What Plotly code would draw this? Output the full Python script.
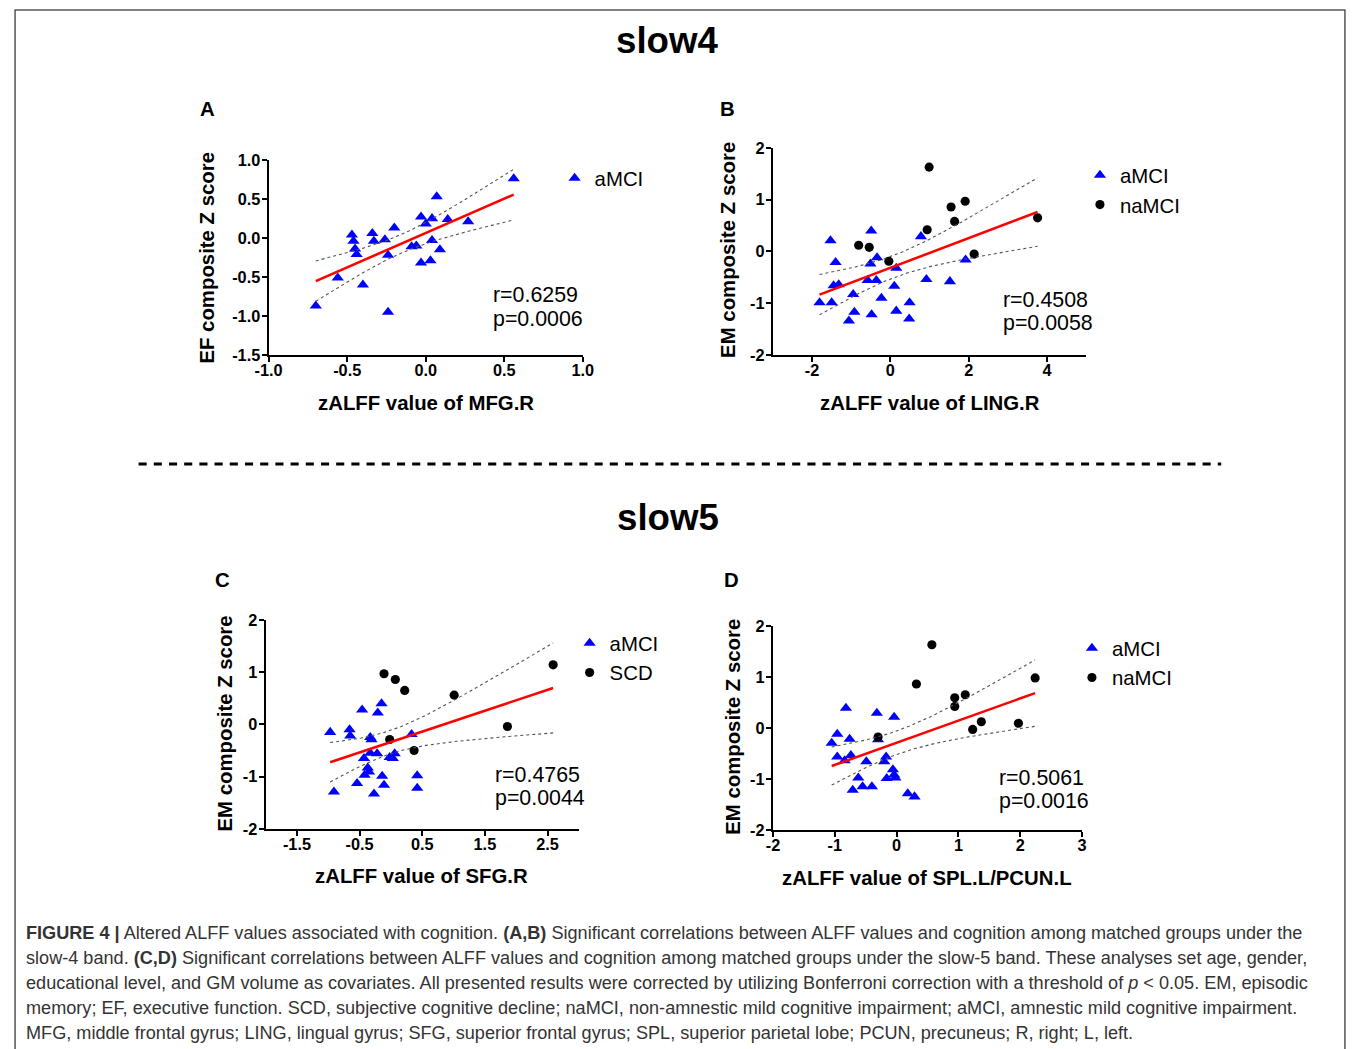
import numpy as np
import plotly.graph_objects as go

W, H = 1357, 1049
# The photographed page comes out slightly shrunk about its centre; positions below are
# given in reference-picture pixels and converted to page pixels with this calibration.
SX, OX = 0.981, 13.5
SY, OY = 0.983, 8.0
K = 1.0 / 0.982
FONT = "Liberation Sans, Arial, Helvetica, sans-serif"

# ---------------- data ----------------
# Panel A (slow4): EF composite Z score vs zALFF of MFG.R
a_amci_x = [-0.70, -0.56, -0.47, -0.46, -0.45, -0.44, -0.40, -0.34, -0.33, -0.26, -0.24, -0.24, -0.20,
            -0.09, -0.06, -0.03, 0.00, -0.03, 0.03, 0.04, 0.04, 0.07, 0.09, 0.14, 0.27, 0.56]
a_amci_y = [-0.87, -0.51, 0.04, -0.04, -0.14, -0.21, -0.60, 0.06, -0.04, -0.02, -0.22, -0.95, 0.13,
            -0.11, -0.10, 0.27, 0.18, -0.32, -0.29, 0.25, -0.03, 0.53, -0.15, 0.24, 0.21, 0.76]

# Panel B (slow4): EM composite Z score vs zALFF of LING.R
b_amci_x = [-1.81, -1.53, -1.50, -1.45, -1.40, -1.32, -1.06, -0.95, -0.92, -0.58, -0.51, -0.49, -0.48,
            -0.36, -0.34, -0.23, 0.10, 0.15, 0.15, 0.49, 0.48, 0.78, 0.92, 1.52, 1.92]
b_amci_y = [-0.99, 0.21, -0.99, -0.66, -0.21, -0.64, -1.34, -0.83, -1.17, -0.56, -0.24, 0.40, -1.22,
            -0.56, -0.12, -0.90, -0.67, -0.32, -1.15, -0.99, -1.30, 0.29, -0.54, -0.58, -0.16]
b_namci_x = [-0.81, -0.54, -0.04, 0.94, 0.99, 1.55, 1.64, 1.91, 2.14, 3.76]
b_namci_y = [0.12, 0.08, -0.19, 0.42, 1.63, 0.86, 0.58, 0.97, -0.05, 0.65]

# Panel C (slow5): EM composite Z score vs zALFF of SFG.R
c_amci_x = [-0.97, -0.91, -0.66, -0.65, -0.54, -0.46, -0.43, -0.42, -0.37, -0.35, -0.33, -0.31, -0.33,
            -0.27, -0.22, -0.21, -0.15, -0.14, -0.11, -0.02, 0.03, 0.06, 0.33, 0.42, 0.42]
c_amci_y = [-0.15, -1.29, -0.10, -0.22, -1.13, 0.28, -0.65, -0.97, -0.83, -0.91, -0.25, -0.29, -0.55,
            -1.33, -0.56, 0.22, 0.40, -0.99, -1.16, -0.63, -0.65, -0.56, -0.19, -0.98, -1.22]
c_scd_x = [-0.11, 0.07, 0.22, -0.02, 0.37, 1.01, 1.86, 2.59]
c_scd_y = [0.97, 0.86, 0.65, -0.29, -0.50, 0.56, -0.04, 1.14]

# Panel D (slow5): EM composite Z score vs zALFF of SPL.L/PCUN.L
d_amci_x = [-1.05, -0.96, -0.96, -0.84, -0.82, -0.76, -0.74, -0.71, -0.62, -0.55, -0.49, -0.40,
            -0.32, -0.30, -0.20, -0.17, -0.16, -0.06, -0.04, -0.04, -0.02, 0.18, 0.29]
d_amci_y = [-0.30, -0.12, -0.57, -0.64, 0.39, -0.22, -0.54, -1.22, -0.98, -1.15, -0.66, -1.15,
            0.29, -0.23, -0.66, -0.57, -0.99, -0.82, 0.21, -0.92, -0.98, -1.29, -1.35]
d_namci_x = [-0.30, 0.32, 0.57, 0.94, 0.94, 1.11, 1.23, 1.37, 1.97, 2.24]
d_namci_y = [-0.18, 0.86, 1.63, 0.42, 0.59, 0.65, -0.03, 0.12, 0.09, 0.98]

# tick labels
a_xticks = [-1.0, -0.5, 0.0, 0.5, 1.0]
a_xticktext = ["-1.0", "-0.5", "0.0", "0.5", "1.0"]
a_yticks = [-1.5, -1.0, -0.5, 0.0, 0.5, 1.0]
a_yticktext = ["-1.5", "-1.0", "-0.5", "0.0", "0.5", "1.0"]
b_xticks = [-2, 0, 2, 4]
c_xticks = [-1.5, -0.5, 0.5, 1.5, 2.5]
d_xticks = [-2, -1, 0, 1, 2, 3]
em_yticks = [-2, -1, 0, 1, 2]

stats_r = ["r=0.6259", "r=0.4508", "r=0.4765", "r=0.5061"]
stats_p = ["p=0.0006", "p=0.0058", "p=0.0044", "p=0.0016"]


# ---------------- helpers ----------------
def page_x(X):
    return (X - OX) / SX


def page_y(Y):
    return (Y - OY) / SY


def px(X):
    return page_x(X) / W


def py(Y):
    return 1 - page_y(Y) / H


def t975(df):
    z = 1.959964
    return (z + (z ** 3 + z) / (4 * df) + (5 * z ** 5 + 16 * z ** 3 + 3 * z) / (96 * df ** 2)
            + (3 * z ** 7 + 19 * z ** 5 + 17 * z ** 3 - 15 * z) / (384 * df ** 3))


def fit_band(xs, ys, npts=80):
    x = np.asarray(xs, float)
    y = np.asarray(ys, float)
    n = len(x)
    b, a = np.polyfit(x, y, 1)
    res = y - (a + b * x)
    s = np.sqrt(np.sum(res ** 2) / (n - 2))
    xbar = x.mean()
    sxx = np.sum((x - xbar) ** 2)
    xg = np.linspace(x.min(), x.max(), npts)
    yg = a + b * xg
    se = s * np.sqrt(1.0 / n + (xg - xbar) ** 2 / sxx)
    t = t975(n - 2)
    return xg, yg, yg - t * se, yg + t * se


fig = go.Figure()

panels = [
    ("", [("aMCI", a_amci_x, a_amci_y, "triangle-up", "#0000FF")], "legend"),
    ("2", [("aMCI", b_amci_x, b_amci_y, "triangle-up", "#0000FF"),
           ("naMCI", b_namci_x, b_namci_y, "circle", "#000000")], "legend2"),
    ("3", [("aMCI", c_amci_x, c_amci_y, "triangle-up", "#0000FF"),
           ("SCD", c_scd_x, c_scd_y, "circle", "#000000")], "legend3"),
    ("4", [("aMCI", d_amci_x, d_amci_y, "triangle-up", "#0000FF"),
           ("naMCI", d_namci_x, d_namci_y, "circle", "#000000")], "legend4"),
]

for suf, groups, leg in panels:
    xa, ya = "x" + suf, "y" + suf
    for name, gx, gy, sym, col in groups:
        fig.add_trace(go.Scatter(
            x=gx, y=gy, mode="markers", name=name, xaxis=xa, yaxis=ya, legend=leg,
            marker=dict(symbol=sym, color=col, size=(10.5 if sym == "triangle-up" else 9) * K,
                        line=dict(width=0)),
            cliponaxis=False,
        ))
    allx = sum([list(g[1]) for g in groups], [])
    ally = sum([list(g[2]) for g in groups], [])
    xg, yg, lo, hi = fit_band(allx, ally)
    for band in (lo, hi):
        fig.add_trace(go.Scatter(x=xg, y=band, mode="lines", xaxis=xa, yaxis=ya, showlegend=False,
                                 line=dict(color="#555555", width=1.1, dash="dot"), hoverinfo="skip"))
    fig.add_trace(go.Scatter(x=xg, y=yg, mode="lines", xaxis=xa, yaxis=ya, showlegend=False,
                             line=dict(color="#FF0000", width=2.5 * K), hoverinfo="skip"))

tickfont = dict(family=FONT, size=16 * K, color="black", weight="bold")


def axis(domain, rng, tickvals, ticktext, anchor, standoff):
    return dict(domain=domain, range=rng, tickvals=tickvals, ticktext=ticktext, anchor=anchor,
                showgrid=False, zeroline=False, showline=True, linecolor="black", linewidth=2 * K,
                ticks="outside", ticklen=5 * K, tickwidth=2 * K, tickcolor="black", tickfont=tickfont,
                ticklabelstandoff=standoff, fixedrange=True)


em_ytext = [str(v) for v in em_yticks]
XSO, YSO = -6, -2

layout_axes = dict(
    xaxis=axis([px(268), px(582)], [-1, 1], a_xticks, a_xticktext, "y", XSO),
    yaxis=axis([py(354), py(159)], [-1.5, 1.0], a_yticks, a_yticktext, "x", YSO),
    xaxis2=axis([px(772), px(1085)], [-3, 5], b_xticks, [str(v) for v in b_xticks], "y2", XSO),
    yaxis2=axis([py(354), py(147)], [-2, 2], em_yticks, em_ytext, "x2", YSO),
    xaxis3=axis([px(265), px(578)], [-2, 3], c_xticks, [str(v) for v in c_xticks], "y3", XSO),
    yaxis3=axis([py(828), py(619)], [-2, 2], em_yticks, em_ytext, "x3", YSO),
    xaxis4=axis([px(772), px(1081)], [-2, 3], d_xticks, [str(v) for v in d_xticks], "y4", XSO),
    yaxis4=axis([py(829), py(625)], [-2, 2], em_yticks, em_ytext, "x4", YSO),
)

legfont = dict(family=FONT, size=20 * K, color="black")


def legend(text_left, first_symbol_y):
    # plotly places legend text ~42px right of the legend's left edge and the first
    # symbol ~21px below its top edge
    left = (page_x(text_left) - 42) / W
    top = 1 - (page_y(first_symbol_y) - 21) / H
    return dict(x=left, y=top, xanchor="left", yanchor="top", font=legfont,
                bgcolor="rgba(0,0,0,0)", borderwidth=0, tracegroupgap=0, itemclick=False,
                itemdoubleclick=False)


annotations = []


def text(x, y, s, size, bold=False, xanchor="center", angle=0, color="black", family=FONT):
    annotations.append(dict(
        x=px(x), y=py(y), xref="paper", yref="paper", text=("<b>%s</b>" % s) if bold else s,
        showarrow=False, xanchor=xanchor, yanchor="middle", textangle=angle,
        font=dict(family=family, size=size * K, color=color),
    ))


# headings
text(666, 40, "slow4", 36, bold=True)
text(667, 517, "slow5", 36, bold=True)
# panel letters
text(207, 108, "A", 20, bold=True)
text(727, 108, "B", 20, bold=True)
text(222, 579, "C", 20, bold=True)
text(731, 579, "D", 20, bold=True)
# axis titles
text(425, 402, "zALFF value of MFG.R", 20, bold=True)
text(929, 402, "zALFF value of LING.R", 20, bold=True)
text(421, 875, "zALFF value of SFG.R", 20, bold=True)
text(926, 877, "zALFF value of SPL.L/PCUN.L", 20, bold=True)
text(206, 257, "EF composite Z score", 20, bold=True, angle=-90)
text(727, 249, "EM composite Z score", 20, bold=True, angle=-90)
text(224, 723, "EM composite Z score", 20, bold=True, angle=-90)
text(732, 726, "EM composite Z score", 20, bold=True, angle=-90)
# statistics
stat_pos = [(490, 294, 318), (1000, 299, 322), (492, 774, 797), (996, 777, 800)]
for (sx, ry, pyy), r, p in zip(stat_pos, stats_r, stats_p):
    text(sx, ry, r, 21, xanchor="left")
    text(sx, pyy, p, 21, xanchor="left")

# caption
caption = [
    "<b>FIGURE 4 |</b> Altered ALFF values associated with cognition. <b>(A,B)</b> Significant correlations "
    "between ALFF values and cognition among matched groups under the",
    "slow-4 band. <b>(C,D)</b> Significant correlations between ALFF values and cognition among matched "
    "groups under the slow-5 band. These analyses set age, gender,",
    "educational level, and GM volume as covariates. All presented results were corrected by utilizing "
    "Bonferroni correction with a threshold of <i>p</i> &lt; 0.05. EM, episodic",
    "memory; EF, executive function. SCD, subjective cognitive decline; naMCI, non-amnestic mild cognitive "
    "impairment; aMCI, amnestic mild cognitive impairment.",
    "MFG, middle frontal gyrus; LING, lingual gyrus; SFG, superior frontal gyrus; SPL, superior parietal "
    "lobe; PCUN, precuneus; R, right; L, left.",
]
for i, line in enumerate(caption):
    text(23, 932 + 25 * i, line, 17.8, xanchor="left", color="#333333")

shapes = [
    dict(type="rect", xref="paper", yref="paper", x0=max(px(9), 0.0008), x1=min(px(1355), 0.9992),
         y0=-0.05, y1=py(9),
         line=dict(color="#555555", width=1.5), fillcolor="rgba(0,0,0,0)", layer="below"),
    dict(type="line", xref="paper", yref="paper", x0=px(138), x1=px(1220), y0=py(463), y1=py(463),
         line=dict(color="black", width=3 * K, dash="%.1fpx,%.1fpx" % (8 * K, 7 * K))),
]

fig.update_layout(
    width=W, height=H, autosize=False,
    margin=dict(l=0, r=0, t=0, b=0),
    paper_bgcolor="white", plot_bgcolor="white",
    font=dict(family=FONT, color="black"),
    showlegend=True,
    legend=legend(595, 178),
    legend2=legend(1120, 175),
    legend3=legend(610, 643),
    legend4=legend(1112, 648),
    annotations=annotations,
    shapes=shapes,
    **layout_axes,
)

fig.write_html("out.html", config={"displayModeBar": False},
               post_script="document.body.style.margin='0';document.body.style.overflow='hidden';")
